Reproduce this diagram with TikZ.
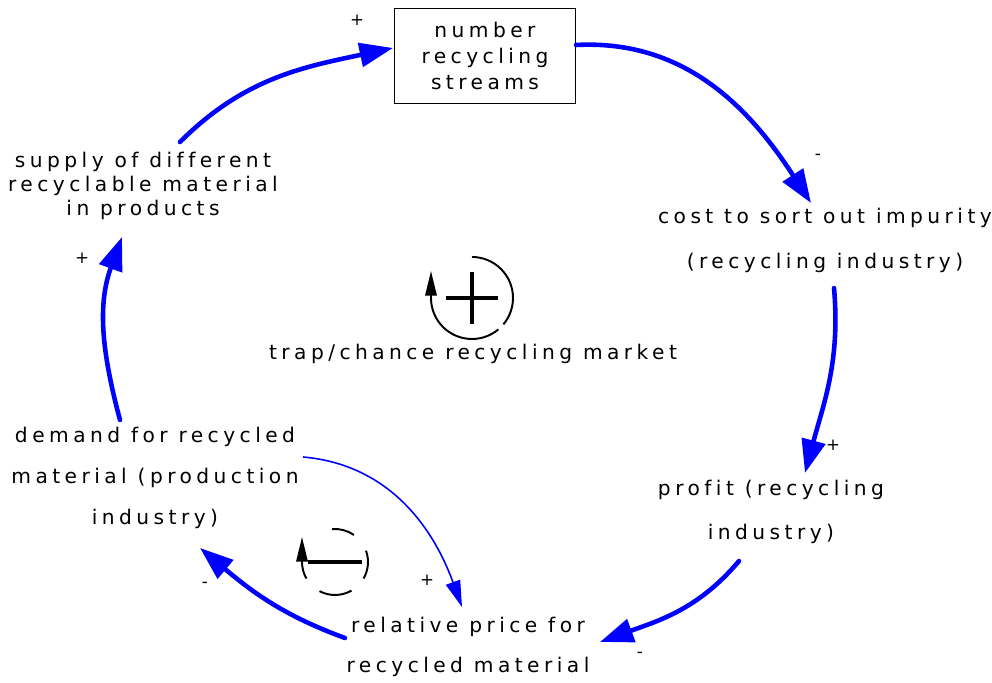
\documentclass[tikz,border=0pt]{standalone}
\usepackage{fontspec}
\newfontfamily\cldfont{DejaVu Sans}[LetterSpace=22,Ligatures=NoCommon]
\usetikzlibrary{arrows.meta,positioning}

\begin{document}
\begin{tikzpicture}[x=0.02cm,y=0.02cm,
  var/.style={font=\cldfont\fontsize{11.5}{13.6}\selectfont, align=center, inner sep=0pt},
  stock/.style={var, draw, line width=0.75pt, minimum width=3.62cm, minimum height=1.9cm},
  link/.style={draw=blue, line width=2.6pt, line cap=round, -{Triangle[length=19pt,width=13.5pt]}},
  thinlink/.style={draw=blue, line width=0.9pt, -{Triangle[length=15pt,width=8.5pt]}},
  sign/.style={font=\cldfont\fontsize{9.5}{10}\selectfont, inner sep=0pt},
  loopline/.style={line width=1.1pt},
  loopsym/.style={line width=2.2pt}]
  \useasboundingbox (0,0) rectangle (992,683);

  % variables
  \node[stock] (streams) at (485,627) {number\\[1pt]recycling\\[1pt]streams};
  \node[var] (supply) at (143,497) {supply of different\\recyclable material\\in products};
  \node[var] (cost) at (825,443) {cost to sort out impurity\\[12pt](recycling industry)};
  \node[var] (profit) at (771,171) {profit (recycling\\[11pt]industry)};
  \node[var] (price) at (468,36) {relative price for\\[9.5pt]recycled material};
  \node[var] (demand) at (155,205) {demand for recycled\\[9.5pt]material (production\\[9.5pt]industry)};
  \node[var] (looplabel) at (473,329) {trap/chance recycling market};

  % causal links
  \draw[link] ([shift={(37,44)}]supply.center) to[out=45,in=192] ([shift={(-92,8)}]streams.center);
  \draw[link] ([shift={(91,11)}]streams.center) to[out=3,in=123] ([shift={(-14,37)}]cost.center);
  \draw[link] ([shift={(9,-48)}]cost.center) to[out=-85,in=75] ([shift={(34,39)}]profit.center);
  \draw[link] ([shift={(-32,-49)}]profit.center) to[out=-130,in=20] ([shift={(132,5)}]price.center);
  \draw[link] ([shift={(-123,9)}]price.center) to[out=160,in=-40] ([shift={(45,-70)}]demand.center);
  \draw[link] ([shift={(-35,58)}]demand.center) to[out=105,in=250] ([shift={(-21,-51)}]supply.center);
  \draw[thinlink] ([shift={(148,21)}]demand.center) to[out=-5,in=110] ([shift={(-6,40)}]price.center);

  % polarities
  \node[sign] (p1) at (357,663) {+};
  \node[sign] (p2) at (818,526) {-};
  \node[sign] (p3) at (833,238) {+};
  \node[sign] (p4) at (640,28) {-};
  \node[sign] (p5) at (205,98) {-};
  \node[sign] (p6) at (82,425) {+};
  \node[sign] (p7) at (427,103) {+};

  % reinforcing loop
  \coordinate (plusloop) at (472,385);
  \draw[loopline] ([shift={(90:41)}]plusloop) arc[start angle=90,end angle=-40,radius=41];
  \draw[loopline,-{Triangle[length=14pt,width=6.5pt]}] ([shift={(-50:41)}]plusloop)
    arc[start angle=-50,end angle=-180,radius=41] -- ++(0,27);
  \draw[loopsym] (plusloop) ++(-26,0) -- ++(52,0) (plusloop) ++(0,-26) -- ++(0,52);

  % balancing loop
  \coordinate (minusloop) at (335,121);
  \draw[loopline] ([shift={(95:33)}]minusloop) arc[start angle=95,end angle=55,radius=33];
  \draw[loopline] ([shift={(20:33)}]minusloop) arc[start angle=20,end angle=-30,radius=33];
  \draw[loopline] ([shift={(-60:33)}]minusloop) arc[start angle=-60,end angle=-118,radius=33];
  \draw[loopline,-{Triangle[length=14pt,width=6.5pt]}] ([shift={(-150:33)}]minusloop)
    arc[start angle=-150,end angle=-180,radius=33] -- ++(0,25);
  \draw[loopsym] (minusloop) ++(-27,0) -- ++(54,0);
\end{tikzpicture}
\end{document}
